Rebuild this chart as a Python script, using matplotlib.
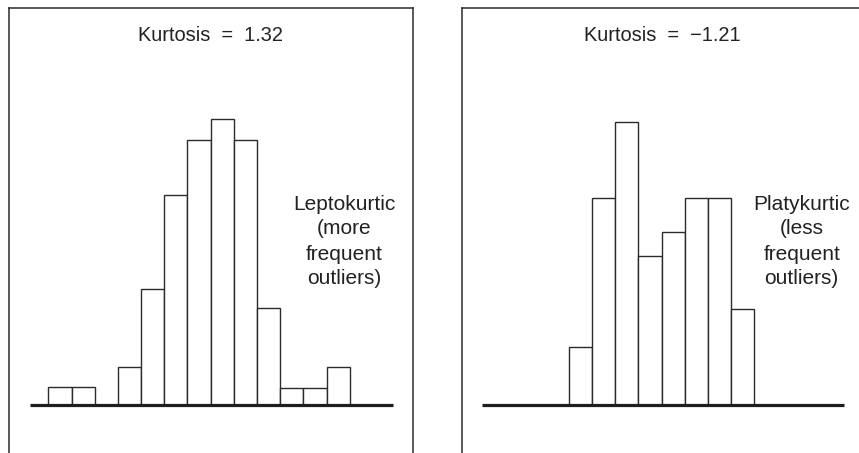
import matplotlib
matplotlib.use("Agg")
import matplotlib.pyplot as plt
import numpy as np

plt.rcParams['font.family'] = ['Liberation Sans', 'DejaVu Sans']

# ---- data ----
lepto_heights = [1.0, 1.0, 0.0, 2.13, 6.55, 11.85, 14.97, 16.16, 14.97, 5.46, 0.96, 0.96, 2.16]
platy_heights = [3.28, 11.7, 16.0, 8.4, 9.8, 11.7, 11.7, 5.4]
lepto_start = 0.0     # bin index of first leptokurtic bar
platy_start = 2.92    # bin index of first platykurtic bar
titles = ["Kurtosis  =  1.32", "Kurtosis  =  \u22121.21"]
labels = ["Leptokurtic\n(more\nfrequent\noutliers)",
          "Platykurtic\n(less\nfrequent\noutliers)"]

W, H = 859, 453
fig = plt.figure(figsize=(W / 100, H / 100), dpi=100)

edge = '#2b2b2b'
txt = '#222222'
TOP = 8.3
AXW = 404

def make_ax(left_px):
    ax = fig.add_axes([left_px / W, 0, AXW / W, (H - TOP) / H])
    ax.set_xlim(-1.694, 15.72)
    ax.set_ylim(-2.712, 22.41)
    ax.set_xticks([]); ax.set_yticks([])
    ax.spines['bottom'].set_visible(False)
    for s in ['left', 'right', 'top']:
        ax.spines[s].set_color(edge)
        ax.spines[s].set_linewidth(1.1)
    ax.patch.set_alpha(0)
    return ax

panels = [
    (9, lepto_heights, lepto_start, (-0.79, 14.86), titles[0], 210.3, labels[0], 344),
    (461.7, platy_heights, platy_start, (-0.83, 14.80), titles[1], 662.5, labels[1], 801.7),
]

for left_px, heights, start, (bx0, bx1), title, tx_px, label, lx_px in panels:
    ax = make_ax(left_px)
    x = start + np.arange(len(heights))
    ax.bar(x, heights, width=1.0, align='edge', color='white',
           edgecolor=edge, linewidth=1.0, zorder=2)
    ax.plot([bx0, bx1], [0, 0], color='#1e1e1e', linewidth=2.3,
            solid_capstyle='butt', zorder=3)
    ax.text((tx_px - left_px) / AXW, 1 - (41 - TOP) / (H - TOP), title,
            transform=ax.transAxes, ha='center', va='baseline',
            fontsize=14.4, color=txt)
    ax.text((lx_px - left_px) / AXW, 1 - (241.5 - TOP) / (H - TOP), label,
            transform=ax.transAxes, ha='center', va='center',
            fontsize=15, color=txt, linespacing=1.4)

fig.savefig('out.png', dpi=100)
